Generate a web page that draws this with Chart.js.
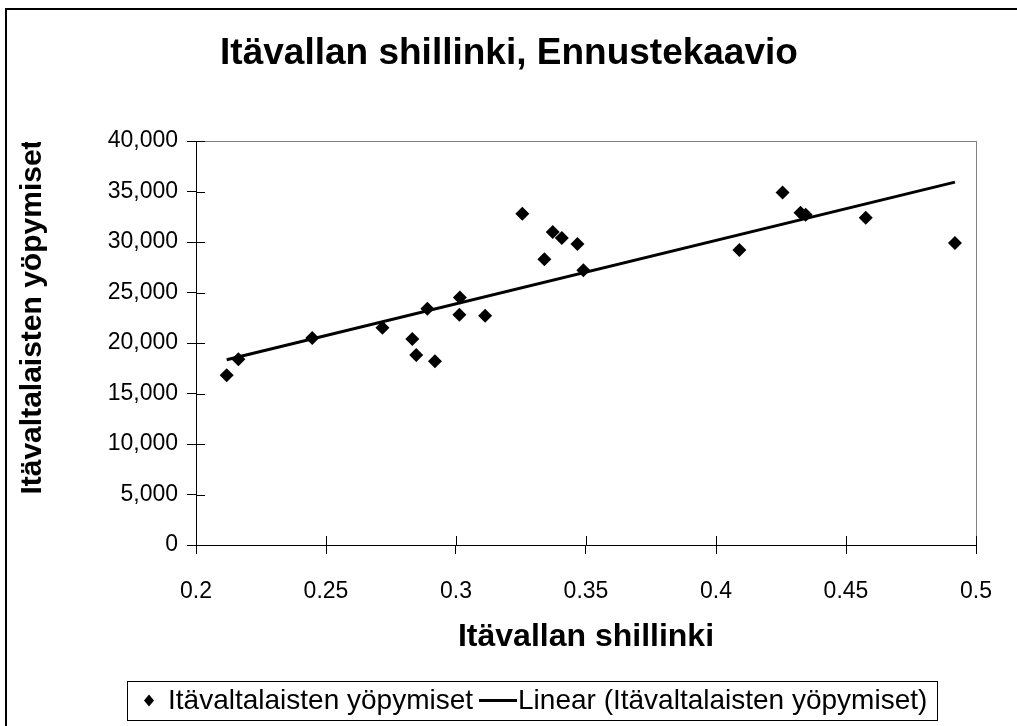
<!DOCTYPE html>
<html><head><meta charset="utf-8">
<script src="https://cdn.jsdelivr.net/npm/chart.js@4/dist/chart.umd.min.js"></script>
<style>html,body{margin:0;padding:0;background:#fff}canvas{display:block}</style>
</head><body>
<canvas id="c" width="1017" height="726"></canvas>
<script>
const chartTitle = 'Itävallan shillinki, Ennustekaavio';
const xAxisTitle = 'Itävallan shillinki';
const yAxisTitle = 'Itävaltalaisten yöpymiset';
const seriesName = 'Itävaltalaisten yöpymiset';
const trendName = 'Linear (Itävaltalaisten yöpymiset)';

const shilling = [0.2118, 0.2163, 0.2447, 0.2717, 0.2832, 0.2847, 0.2919, 0.2890, 0.3015, 0.3013, 0.3112,
                  0.3255, 0.3372, 0.3407, 0.3467, 0.3340, 0.3490, 0.4256, 0.4325, 0.4345, 0.4576, 0.4090, 0.4919];
const overnights = [16800, 18400, 20500, 21500, 20400, 18800, 18200, 23400, 24500, 22800, 22700,
                    32800, 31000, 30400, 29800, 28300, 27200, 34900, 32900, 32700, 32400, 29200, 29900];

const trendX = [0.2118, 0.4919];
const trendY = [18336, 35926];

const xTickValues = [0.2, 0.25, 0.3, 0.35, 0.4, 0.45, 0.5];
const xTickLabels = ['0.2', '0.25', '0.3', '0.35', '0.4', '0.45', '0.5'];
const yTickValues = [0, 5000, 10000, 15000, 20000, 25000, 30000, 35000, 40000];
const yTickLabels = ['0', '5,000', '10,000', '15,000', '20,000', '25,000', '30,000', '35,000', '40,000'];

const FONT = "'Liberation Sans', Arial, sans-serif";

const decor = {
  id: 'decor',
  beforeDraw(chart) {
    const {ctx, chartArea: a} = chart;
    ctx.save();
    ctx.fillStyle = '#fff';
    ctx.fillRect(0, 0, chart.width, chart.height);
    ctx.strokeStyle = '#000';
    ctx.lineWidth = 2;
    ctx.strokeRect(6, 9, chart.width + 40, chart.height + 40);
    ctx.strokeStyle = '#808080';
    ctx.lineWidth = 1;
    ctx.strokeRect(Math.round(a.left) + 0.5, Math.round(a.top) + 0.5, Math.round(a.right - a.left), Math.round(a.bottom - a.top));
    // chart title
    ctx.fillStyle = '#000';
    ctx.font = 'bold 37px ' + FONT;
    ctx.textAlign = 'center';
    ctx.textBaseline = 'middle';
    ctx.fillText(chartTitle, 509, 54);
    ctx.restore();
  },
  beforeDatasetsDraw(chart) {
    const {ctx, chartArea: a, scales: {x, y}} = chart;
    ctx.save();
    ctx.strokeStyle = '#000';
    ctx.lineWidth = 1;
    ctx.beginPath();
    x.ticks.forEach(t => {
      const px = Math.round(x.getPixelForValue(t.value)) + 0.5;
      ctx.moveTo(px, a.bottom); ctx.lineTo(px, a.bottom - 9);
    });
    y.ticks.forEach(t => {
      const py = Math.round(y.getPixelForValue(t.value)) + 0.5;
      ctx.moveTo(a.left, py); ctx.lineTo(a.left + 9, py);
    });
    ctx.stroke();
    ctx.restore();
  },
  afterDraw(chart) {
    const {ctx, chartArea: a} = chart;
    // y axis title (clipped at the plot top like the original)
    ctx.save();
    ctx.beginPath();
    ctx.rect(0, a.top + 1, 120, chart.height - a.top);
    ctx.clip();
    ctx.translate(33, 317);
    ctx.rotate(-Math.PI / 2);
    ctx.fillStyle = '#000';
    ctx.font = 'bold 30px ' + FONT;
    ctx.textAlign = 'center';
    ctx.textBaseline = 'middle';
    ctx.fillText(yAxisTitle, 0, 0);
    ctx.restore();

    // legend
    ctx.save();
    const lx = 127, ly = 681, lh = 39;
    const cy = ly + lh / 2;
    ctx.font = '28px ' + FONT;
    ctx.fillStyle = '#000';
    ctx.textBaseline = 'middle';
    ctx.textAlign = 'left';
    const ds = chart.data.datasets;
    const dx = lx + 22;
    ctx.beginPath();
    ctx.moveTo(dx, cy - 6); ctx.lineTo(dx + 5, cy); ctx.lineTo(dx, cy + 6); ctx.lineTo(dx - 5, cy); ctx.closePath();
    ctx.fill();
    let tx = lx + 41;
    ctx.fillText(ds[0].label, tx, cy + 1);
    tx += ctx.measureText(ds[0].label).width + 6;
    ctx.strokeStyle = '#000';
    ctx.lineWidth = 3;
    ctx.beginPath(); ctx.moveTo(tx, cy); ctx.lineTo(tx + 38, cy); ctx.stroke();
    tx += 39;
    ctx.fillText(ds[1].label, tx, cy + 1);
    tx += ctx.measureText(ds[1].label).width + 10;
    ctx.lineWidth = 1;
    ctx.strokeStyle = '#000';
    ctx.strokeRect(lx + 0.5, ly + 0.5, Math.round(tx - lx), lh);
    ctx.restore();
  }
};

new Chart(document.getElementById('c'), {
  type: 'scatter',
  data: {
    datasets: [
      {
        label: seriesName,
        data: shilling.map((v, i) => ({x: v, y: overnights[i]})),
        pointStyle: 'rectRot',
        pointRadius: 7,
        pointHoverRadius: 7,
        backgroundColor: '#000',
        borderColor: '#000',
        borderWidth: 0,
        order: 2
      },
      {
        label: trendName,
        data: trendX.map((v, i) => ({x: v, y: trendY[i]})),
        showLine: true,
        borderColor: '#000',
        borderWidth: 3,
        pointRadius: 0,
        fill: false,
        order: 1
      }
    ]
  },
  options: {
    responsive: false,
    animation: false,
    devicePixelRatio: 1,
    layout: {padding: {left: 10, right: 41, top: 141, bottom: 66}},
    plugins: {
      legend: {display: false},
      tooltip: {enabled: false},
      title: {display: false}
    },
    scales: {
      x: {
        type: 'linear', min: 0.2, max: 0.5,
        afterFit(s) { s.height = 115; },
        afterBuildTicks(s) { s.ticks = xTickValues.map(v => ({value: v})); },
        ticks: {callback: (v, i) => xTickLabels[i], color: '#000', font: {family: FONT, size: 23}, padding: 24, maxRotation: 0, autoSkip: false},
        grid: {drawOnChartArea: false, drawTicks: true, tickLength: 9, color: '#000'},
        border: {color: '#000', width: 1},
        title: {display: true, text: xAxisTitle, color: '#000', font: {family: FONT, size: 32, weight: 'bold', lineHeight: 1.2}, padding: {top: 0, bottom: 4}}
      },
      y: {
        type: 'linear', min: 0, max: 40000,
        afterFit(s) { s.width = 186; },
        afterBuildTicks(s) { s.ticks = yTickValues.map(v => ({value: v})); },
        ticks: {callback: (v, i) => yTickLabels[i], color: '#000', font: {family: FONT, size: 23}, padding: 9, autoSkip: false},
        grid: {drawOnChartArea: false, drawTicks: true, tickLength: 9, color: '#000'},
        border: {color: '#000', width: 1},
        title: {display: false}
      }
    }
  },
  plugins: [decor]
});
</script>
</body></html>
